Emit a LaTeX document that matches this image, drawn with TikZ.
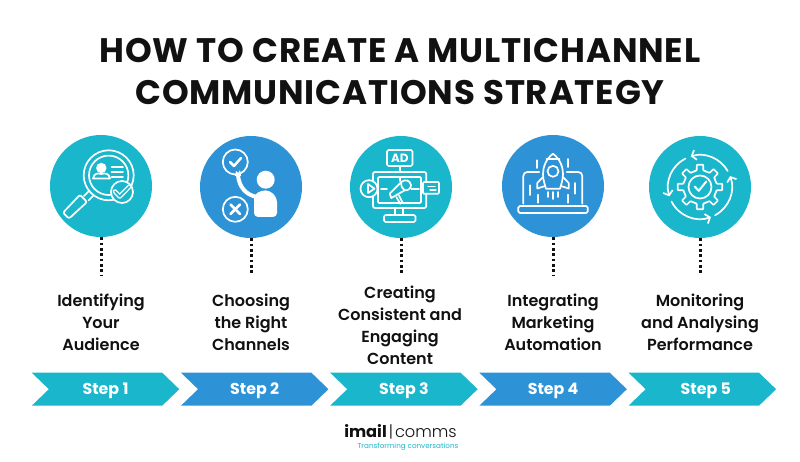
\documentclass[tikz,border=0pt]{standalone}
\usepackage{fontspec}
\setmainfont{Poppins}
\newfontfamily\semifont{Poppins SemiBold}
\newfontfamily\lightfont{Poppins Light}
\usetikzlibrary{arrows.meta, shapes.symbols}
\definecolor{step-teal}{HTML}{19B6CC}
\definecolor{step-blue}{HTML}{2E92D6}
\definecolor{title-ink}{HTML}{111111}
\tikzset{
  badge/.style={circle, inner sep=0pt, minimum size=102pt},
  dotline/.style={line width=3pt, dash pattern=on 2.7pt off 2.65pt, color=title-ink},
  steptext/.style={font=\semifont\fontsize{16}{21.8}\selectfont, align=center, text=title-ink},
  chevron/.style={signal, signal from=west, signal to=east, signal pointer angle=88,
        inner sep=0pt, minimum width=147.5pt, minimum height=33pt, text height=12pt, text depth=2.2pt,
        text=white, font=\bfseries\fontsize{15.8}{18}\selectfont},
  icon/.style={draw=white, line width=1.7pt, line join=round, line cap=round},
  iconfill/.style={fill=white, draw=none}
}
\begin{document}
\begin{tikzpicture}[x=1pt, y=-1pt]
  \useasboundingbox (0,0) rectangle (800,462);
  \fill[white] (0,0) rectangle (800,462);
  \node[font=\bfseries\fontsize{34}{42.5}\selectfont, text=title-ink, align=center] (TITLE) at (400,71.5)
    {\addfontfeature{LetterSpace=2.5}HOW TO CREATE A MULTICHANNEL\\\addfontfeature{LetterSpace=2.5}COMMUNICATIONS STRATEGY};

  \node[badge, fill=step-teal] (C1) at (101,186) {};
  \node[badge, fill=step-blue] (C2) at (251,187) {};
  \node[badge, fill=step-teal] (C3) at (401,187) {};
  \node[badge, fill=step-blue] (C4) at (553,186) {};
  \node[badge, fill=step-teal] (C5) at (700,187) {};

  % dotted drops under the badges
  \coordinate (D1) at (101,275);
  \coordinate (D2) at (251,275);
  \coordinate (D3) at (401,275);
  \coordinate (D4) at (553,275);
  \coordinate (D5) at (700,275);
  \draw[dotline] (C1.south) -- (D1);
  \draw[dotline] (C2.south) -- (D2);
  \draw[dotline] (C3.south) -- (D3);
  \draw[dotline] (C4.south) -- (D4);
  \draw[dotline] (C5.south) -- (D5);

  \node[steptext] (L1) at (101,322.5) {Identifying\\Your\\Audience};
  \node[steptext] (L2) at (251,322.5) {Choosing\\the Right\\Channels};
  \node[steptext] (L3) at (400,325.3) {Creating\\Consistent and\\Engaging\\Content};
  \node[steptext] (L4) at (553,322.5) {Integrating\\Marketing\\Automation};
  \node[steptext] (L5) at (700,322.5) {Monitoring\\and Analysing\\Performance};

  \node[chevron, fill=step-teal] (S1) at (105.5,389.2) {Step 1};
  \node[chevron, fill=step-blue] (S2) at (254.7,389.2) {Step 2};
  \node[chevron, fill=step-teal] (S3) at (403.9,389.2) {Step 3};
  \node[chevron, fill=step-blue] (S4) at (553.1,389.2) {Step 4};
  \node[chevron, fill=step-teal] (S5) at (702.3,389.2) {\hspace*{7pt}Step 5};

  % magnifier
  \begin{scope}[shift={(C1)}]
    \draw[icon] (7.7,-10.7) circle (25);
    \draw[icon] (7.7,-10.7) circle (19.7);
    \draw[icon] (-12.5,5.5) -- (-17,10);
    \draw[icon] (-8,10) -- (-12.5,14.5);
    \draw[icon, rounded corners=2pt] (-21,8.7) -- (-14,16) -- (-32,32.6) -- (-38,26.7) -- cycle;
    \draw[iconfill] (0.3,-18) circle (5.2);
    \draw[icon] (-8,-7.5) .. controls (-7,-13) and (-3,-13) .. (0.3,-12) .. controls (4,-13) and (8,-13) .. (9,-7.5) -- cycle;
    \draw[icon] (10.5,-19) -- (22,-19);
    \draw[icon] (10.5,-14) -- (22,-14);
    \draw[icon] (10.5,-9) -- (22,-9);
    \draw[icon, fill=step-teal] (21,6) circle (11);
    \draw[white, line width=4.5pt, line join=round, line cap=round] (14,5.5) -- (18.7,10.5) -- (28.5,0.5);
    \draw[step-teal, line width=1.7pt, line join=round, line cap=round] (14,5.5) -- (18.7,10.5) -- (28.5,0.5);
  \end{scope}

  % person choosing
  \begin{scope}[shift={(C2)}]
    \draw[icon] (-15.7,-25) circle (12.5);
    \draw[icon, line width=2.5pt] (-21,-25) -- (-17,-21) -- (-10,-29);
    \draw[icon] (-15.7,22.3) circle (12.5);
    \draw[icon, line width=2.8pt] (-20.5,17.5) -- (-11,27);
    \draw[icon, line width=2.8pt] (-11,17.5) -- (-20.5,27);
    \draw[iconfill] (14.7,-7.3) circle (9);
    \draw[iconfill, rounded corners=4pt] (3,30) -- (3,8) -- (10,3.5) -- (19,3.5) -- (26,11) -- (26,30) -- cycle;
    \draw[icon, line width=4pt, line cap=butt] (-13,-12) .. controls (-12,0) and (-5,8) .. (6,10);
    \draw[iconfill] (-16,-11) -- (-15,-16) -- (-13,-14) -- (-11,-17) -- (-10,-11) -- cycle;
  \end{scope}

  % ad screen
  \begin{scope}[shift={(C3)}]
    \draw[icon, rounded corners=1.5pt] (-14,-37) rectangle (11.5,-21);
    \node[text=white, font=\bfseries\fontsize{12}{12}\selectfont, inner sep=0pt] (AD) at (-1.2,-29) {AD};
    \draw[icon] (-1,-21) -- (-1,-15);
    \draw[icon] (-1,-10) -- (-1,-6);
    \draw[icon, rounded corners=2pt] (-28,-15) rectangle (25.3,21);
    \draw[icon, rounded corners=1pt] (-23,-10) rectangle (20,16);
    \draw[icon] (-6,21) -- (-6,28);
    \draw[icon] (2,21) -- (2,28);
    \draw[icon, rounded corners=1.5pt] (-17,28) rectangle (14.5,35);
    \draw[icon, fill=step-teal] (-32,1.7) circle (8.5);
    \draw[icon] (-33,-3) -- (-33,6) -- (-26.5,1.7) -- cycle;
    \draw[icon, fill=step-teal, rounded corners=1pt] (22,-5) rectangle (38,6.7);
    \draw[icon, line width=1.2pt] (27,-0.5) -- (34,-0.5);
    \draw[icon, line width=1.2pt] (29,3) -- (35,3);
    \draw[icon] (-20,1.7) -- (-14,1.7);
    \draw[icon] (10.5,1.7) -- (18,1.7);
    \draw[icon] (-11.3,6.7) -- (0.3,-5) .. controls (4,-8) and (9,-7) .. (10,-2) .. controls (10.5,1) and (7,4) .. (3.7,3.3) -- (-9.7,11) -- cycle;
    \draw[icon] (0.3,-5) .. controls (0,-1) and (1,2) .. (3.7,3.3);
    \draw[icon] (-4.7,10) -- (-0.7,16.7) -- (1.3,15) -- (-2,8.5);
  \end{scope}

  % rocket leaving a laptop
  \begin{scope}[shift={(C4)}]
    \draw[icon, rounded corners=1.5pt] (-34.7,20) rectangle (34.7,27);
    \draw[icon, rounded corners=4pt] (-29.7,17.7) -- (-29.7,-14) -- (-13.7,-14);
    \draw[icon, rounded corners=4pt] (29.3,17.7) -- (29.3,-14) -- (13.7,-14);
    \draw[icon] (0,-32.3) .. controls (7,-27) and (10,-19) .. (10,-12) .. controls (10,-6) and (8,-1) .. (7,2.7)
        -- (-7,2.7) .. controls (-8,-1) and (-10,-6) .. (-10,-12) .. controls (-10,-19) and (-7,-27) .. (0,-32.3) -- cycle;
    \draw[icon] (-6.5,-27) -- (6.5,-27);
    \draw[icon] (0,-14.7) circle (5.5);
    \draw[icon] (-10,-9) -- (-15.7,-3) -- (-15.7,2.5) -- (-8,0);
    \draw[icon] (10,-9) -- (15.7,-3) -- (15.7,2.5) -- (8,0);
    \draw[icon] (-5.3,6) -- (-5.3,11);
    \draw[icon] (0,6) -- (0,13);
    \draw[icon] (5.3,6) -- (5.3,11);
    \draw[icon] (-15.7,-25.7) -- (-15.7,-18);
    \draw[icon] (15,-27) -- (15,-19);
    \draw[icon] (-23,-0.7) -- (-23,9);
    \draw[icon] (22,-3) -- (22,7.7);
    \draw[icon] (-14.7,8.7) -- (-14.7,16.7);
    \draw[icon] (14.7,8.7) -- (14.7,16.7);
  \end{scope}

  % gear and cycle arrows
  \begin{scope}[shift={(C5)}]
    \draw[icon, rounded corners=0.6pt] (-11:17)
      \foreach \a in {0,45,...,315} { -- (\a-11:17) -- (\a-8:22.5) -- (\a+8:22.5) -- (\a+11:17) } -- cycle;
    \draw[icon] (0,0) circle (11.5);
    \draw[icon, line width=2pt] (-5.3,-0.5) -- (-1.3,3.8) -- (6.3,-5.5);
    \draw[icon, -{Straight Barb[length=4pt, width=10pt]}] (-30:32) arc (-30:-107:32);
    \draw[icon, -{Straight Barb[length=4pt, width=10pt]}] (62:32) arc (62:-20:32);
    \draw[icon, -{Straight Barb[length=4pt, width=10pt]}] (243:32) arc (243:163:32);
    \draw[icon, -{Straight Barb[length=4pt, width=10pt]}] (153:32) arc (153:70:32);
  \end{scope}

  % logo
  \node[inner sep=0pt, text=title-ink, font=\fontsize{16.2}{20}\selectfont] (LOGO) at (400.5,432)
    {{\bfseries imail}{\lightfont\hspace{2pt}|\hspace{2pt}comms}};
  \node[inner sep=0pt, text=step-teal, font=\fontsize{7.2}{11}\selectfont] (TAG) at (408,447) {Transforming conversations};
\end{tikzpicture}
\end{document}
